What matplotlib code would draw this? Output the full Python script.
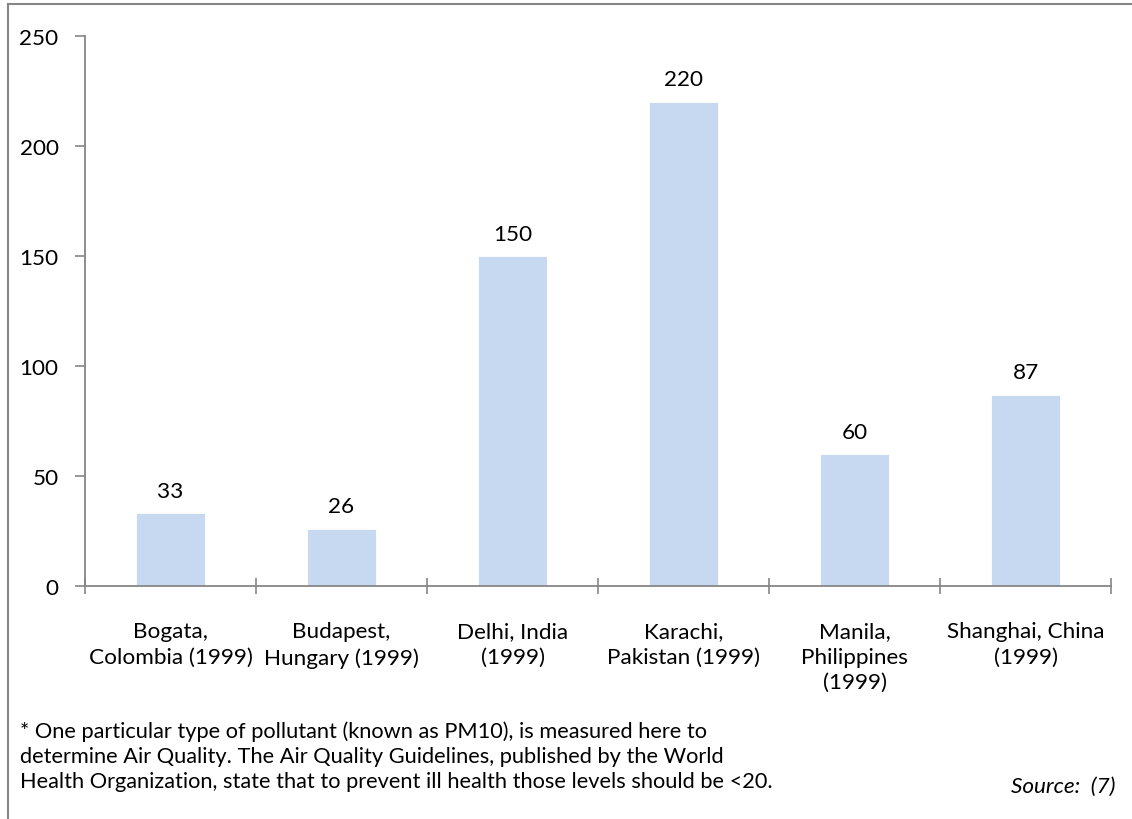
import matplotlib
matplotlib.use("Agg")
import matplotlib.pyplot as plt
from matplotlib.lines import Line2D

categories = ["Bogata,\nColombia (1999)", "Budapest,\nHungary (1999)", "Delhi, India\n(1999)",
              "Karachi,\nPakistan (1999)", "Manila,\nPhilippines\n(1999)", "Shanghai, China\n(1999)"]
values = [33, 26, 150, 220, 60, 87]
yticks = [0, 50, 100, 150, 200, 250]

plt.rcParams['font.family'] = ['Lato', 'DejaVu Sans']
FS = 16.2
FS_FOOT = 15.7

fig = plt.figure(figsize=(11.32, 8.2), dpi=100)
ax = fig.add_axes([0.0751, 0.2841, 0.9064, 0.6708])

x = list(range(len(values)))
ax.bar(x, values, width=0.4, color="#C6D9F1", edgecolor="white", linewidth=0.6, zorder=2)
for xi, v in zip(x, values):
    ax.annotate(f"{v}", (xi, v), xytext=(0, 9), textcoords="offset points",
                ha="center", va="bottom", fontsize=FS, color="black")

ax.set_xlim(-0.5, len(values) - 0.5)
ax.set_ylim(0, 250)
ax.set_yticks(yticks)
ax.set_yticklabels([str(t) for t in yticks], fontsize=FS)
ax.set_xticks([i - 0.5 for i in range(len(values) + 1)])
ax.set_xticklabels([])
ax.set_xticks(x, minor=True)
ax.set_xticklabels(categories, minor=True, fontsize=FS, linespacing=1.34)
ax.tick_params(axis='x', which='minor', length=0, pad=25.5)
ax.tick_params(axis='x', which='major', direction='inout', length=11, width=1.2, color="#868686")
ax.tick_params(axis='y', direction='out', length=7, width=1.2, color="#868686", pad=12)

for s in ["top", "right"]:
    ax.spines[s].set_visible(False)
for s in ["left", "bottom"]:
    ax.spines[s].set_color("#868686")
    ax.spines[s].set_linewidth(1.3)

# figure border (top and left)
fig.add_artist(Line2D([8/1132, 8/1132], [0, 1 - 5/820], transform=fig.transFigure, color="#868686", lw=1.5))
fig.add_artist(Line2D([8/1132, 1], [1 - 5/820, 1 - 5/820], transform=fig.transFigure, color="#868686", lw=1.5))

foot = ("* One particular type of pollutant (known as PM10), is measured here to\n"
        "determine Air Quality. The Air Quality Guidelines, published by the World\n"
        "Health Organization, state that to prevent ill health those levels should be <20.")
fig.text(20/1132, 1 - 788/820, foot, fontsize=FS_FOOT, ha="left", va="baseline", linespacing=1.3)
fig.text(1115/1132, 1 - 793/820, "Source:  (7)", fontsize=FS, ha="right", va="baseline", style="italic")

fig.savefig("out.png", dpi=100)
